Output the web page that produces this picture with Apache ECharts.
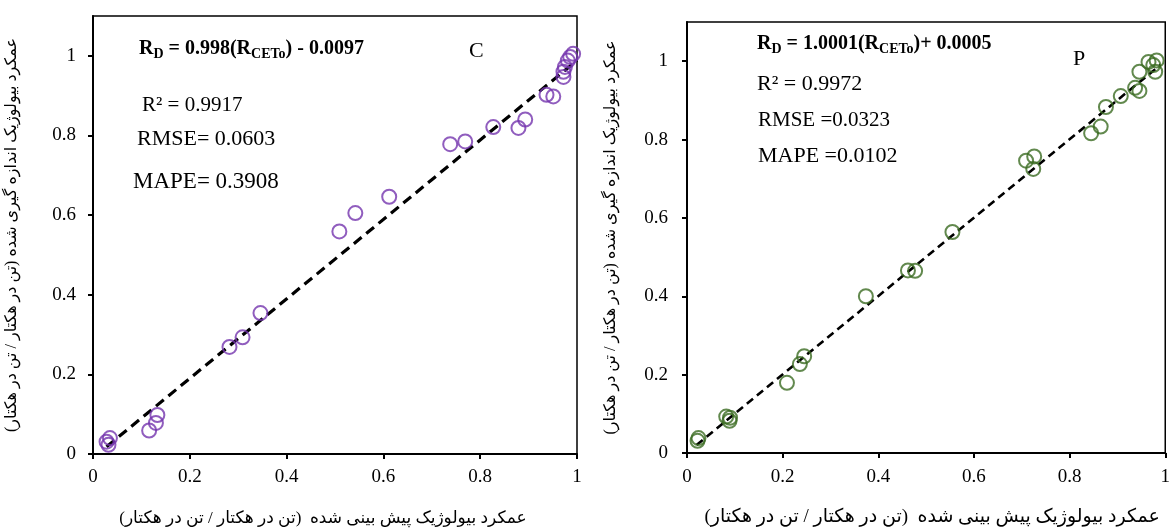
<!DOCTYPE html>
<html>
<head>
<meta charset="utf-8">
<script src="https://cdn.jsdelivr.net/npm/echarts@6/dist/echarts.min.js"></script>
<style>
  html, body { margin: 0; padding: 0; background: #fff; }
  #chart { width: 1173px; height: 532px; }
</style>
</head>
<body>
<div id="chart"></div>
<script>
// Predicted (x) vs measured (y) biological yield, panel C
const cPredicted = [0.028, 0.035, 0.032, 0.116, 0.130, 0.133, 0.282, 0.309, 0.346, 0.509, 0.542, 0.612,
  0.738, 0.769, 0.827, 0.879, 0.893, 0.937, 0.951, 0.972, 0.972, 0.975, 0.981, 0.986, 0.992];
const cMeasured = [0.031, 0.040, 0.023, 0.059, 0.078, 0.098, 0.269, 0.293, 0.354, 0.559, 0.605, 0.646,
  0.778, 0.785, 0.821, 0.819, 0.840, 0.902, 0.898, 0.947, 0.960, 0.972, 0.988, 0.997, 1.005];

// Panel P
const pPredicted = [0.022, 0.024, 0.082, 0.090, 0.089, 0.209, 0.236, 0.245, 0.374, 0.462, 0.477, 0.555,
  0.709, 0.726, 0.724, 0.845, 0.865, 0.876, 0.907, 0.937, 0.946, 0.946, 0.965, 0.975, 0.979, 0.982];
const pMeasured = [0.031, 0.038, 0.093, 0.090, 0.082, 0.179, 0.227, 0.247, 0.400, 0.466, 0.465, 0.564,
  0.746, 0.757, 0.725, 0.816, 0.833, 0.883, 0.911, 0.932, 0.924, 0.973, 0.998, 0.990, 0.973, 1.002];

// Fitted lines: slope, intercept and the x span they are drawn over
const cFit = [0.998, -0.0097];
const pFit = [1.0001, 0.0005];
const cFitRange = [0.028, 1.0];
const pFitRange = [0.02, 0.99];

// Axis ticks
const tickValues = [0, 0.2, 0.4, 0.6, 0.8, 1];
const tickLabels = ['0', '0.2', '0.4', '0.6', '0.8', '1'];

const yTitle = 'عمکرد بیولوژیک اندازه گیری شده (تن در هکتار / تن در هکتار)';
const xTitle = 'عمکرد بیولوژیک پیش بینی شده  (تن در هکتار / تن در هکتار)';

const SERIF = "'Liberation Serif', 'Times New Roman', 'DejaVu Sans', serif";

function pairs(xs, ys) { return xs.map((x, i) => [x, ys[i]]); }
function fitLine(fit, range) { return range.map(x => [x, fit[0] * x + fit[1]]); }
function tickFmt(v) {
  const i = tickValues.findIndex(t => Math.abs(t - v) < 1e-9);
  return i >= 0 ? tickLabels[i] : '';
}

function xAxisDef(gridIndex, titleSize, nameGap, labelMargin, namePad) {
  return {
    type: 'value', gridIndex, min: 0, max: 1, interval: 0.2,
    name: xTitle, nameLocation: 'middle', nameGap,
    nameTextStyle: { fontFamily: SERIF, fontSize: titleSize, color: '#000', padding: namePad },
    axisLine: { show: true, onZero: false, lineStyle: { color: '#000', width: 2 } },
    axisTick: { show: true, inside: false, length: 5, lineStyle: { color: '#000', width: 2 }, customValues: tickValues },
    axisLabel: { customValues: tickValues, formatter: tickFmt, fontFamily: SERIF, fontSize: 19, color: '#000', margin: labelMargin },
    splitLine: { show: false }
  };
}
function yAxisDef(gridIndex, titleSize, nameGap, labelMargin) {
  return {
    type: 'value', gridIndex, min: 0, max: 1.1,
    name: yTitle, nameLocation: 'middle', nameGap, nameRotate: 90,
    nameTextStyle: { fontFamily: SERIF, fontSize: titleSize, color: '#000' },
    axisLine: { show: true, onZero: false, lineStyle: { color: '#000', width: 2 } },
    axisTick: { show: true, inside: false, length: 5, lineStyle: { color: '#000', width: 2 }, customValues: tickValues },
    axisLabel: { customValues: tickValues, formatter: tickFmt, fontFamily: SERIF, fontSize: 19, color: '#000', margin: labelMargin },
    splitLine: { show: false }
  };
}

function eqText(x, y, body) {
  return {
    type: 'text', x, y, z: 10,
    style: {
      text: body, verticalAlign: 'middle', align: 'left',
      rich: {
        b: { fontFamily: SERIF, fontSize: 20, fontWeight: 'bold', color: '#000', lineHeight: 24 },
        s: { fontFamily: SERIF, fontSize: 14, fontWeight: 'bold', color: '#000', lineHeight: 13, verticalAlign: 'bottom' }
      }
    }
  };
}
function plainText(x, y, text, size) {
  return {
    type: 'text', x, y, z: 10,
    style: { text, fontFamily: SERIF, fontSize: size, fill: '#000', verticalAlign: 'middle', align: 'left' }
  };
}

const chart = echarts.init(document.getElementById('chart'), null, { renderer: 'canvas' });
chart.setOption({
  backgroundColor: '#ffffff',
  animation: false,
  grid: [
    { left: 93, top: 16, width: 484, height: 445, show: true, borderColor: '#000', borderWidth: 1.5, backgroundColor: 'transparent' },
    { left: 687, top: 22, width: 485, height: 442, show: true, borderColor: '#000', borderWidth: 1.5, backgroundColor: 'transparent' }
  ],
  xAxis: [xAxisDef(0, 17, 56, 14, [0, 24, 0, 0]), xAxisDef(1, 19, 55, 15, [0, 0, 0, 12])],
  yAxis: [yAxisDef(0, 16, 73, 17), yAxisDef(1, 16, 68, 19)],
  series: [
    {
      type: 'line', xAxisIndex: 0, yAxisIndex: 0, data: fitLine(cFit, cFitRange),
      symbol: 'none', lineStyle: { color: '#000', width: 3.2, type: [10, 6] }, z: 3
    },
    {
      type: 'scatter', xAxisIndex: 0, yAxisIndex: 0, data: pairs(cPredicted, cMeasured),
      symbol: 'circle', symbolSize: 14,
      itemStyle: { color: 'rgba(0,0,0,0)', borderColor: '#7434AE', borderWidth: 2 }, z: 4
    },
    {
      type: 'line', xAxisIndex: 1, yAxisIndex: 1, data: fitLine(pFit, pFitRange),
      symbol: 'none', lineStyle: { color: '#000', width: 2.6, type: [8, 5] }, z: 3
    },
    {
      type: 'scatter', xAxisIndex: 1, yAxisIndex: 1, data: pairs(pPredicted, pMeasured),
      symbol: 'circle', symbolSize: 14,
      itemStyle: { color: 'rgba(0,0,0,0)', borderColor: '#3B6B22', borderWidth: 2 }, z: 4
    }
  ],
  graphic: [
    eqText(139, 49, '{b|R}{s|D}{b| = 0.998(R}{s|CETo}{b|) - 0.0097}'),
    plainText(469, 51, 'C', 22),
    plainText(142, 105, 'R² = 0.9917', 21),
    plainText(137, 139, 'RMSE= 0.0603', 22),
    plainText(133, 182, 'MAPE= 0.3908', 23),

    eqText(757, 44, '{b|R}{s|D}{b| = 1.0001(R}{s|CETo}{b|)+ 0.0005}'),
    plainText(1073, 59, 'P', 22),
    plainText(757, 84, 'R² = 0.9972', 22),
    plainText(758, 120, 'RMSE =0.0323', 21),
    plainText(758, 156, 'MAPE =0.0102', 22)
  ]
});
</script>
</body>
</html>
